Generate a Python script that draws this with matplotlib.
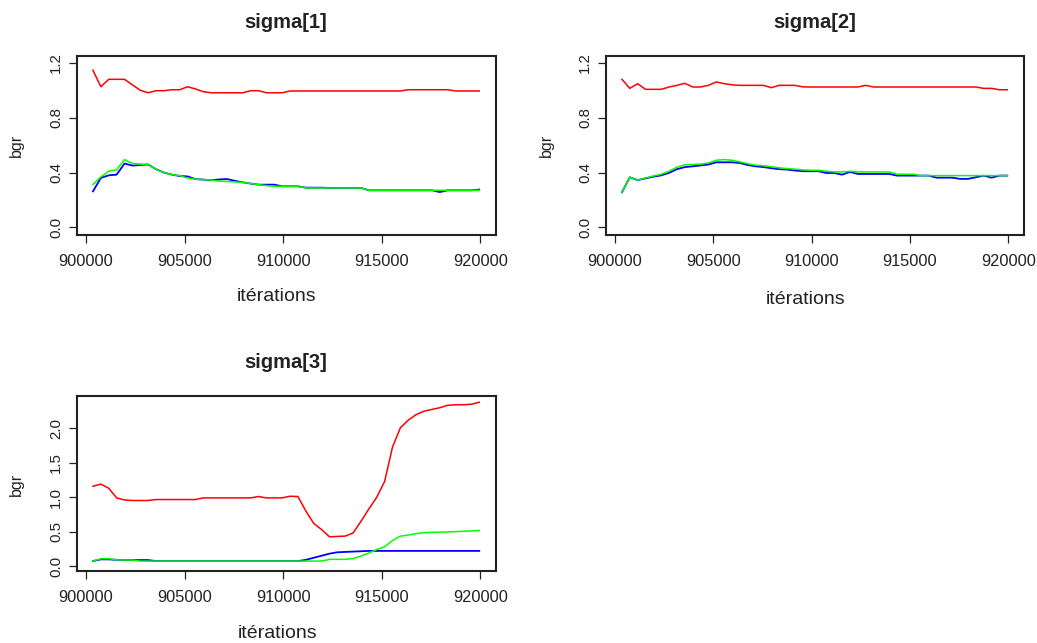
import matplotlib
matplotlib.use("Agg")
import matplotlib.pyplot as plt

plt.rcParams['font.family'] = ['Liberation Sans', 'DejaVu Sans']

# iteration grid (sample points of the BGR diagnostic)
iterations = [900350, 900750, 901150, 901550, 901950, 902350, 902750, 903150, 903550, 903950,
              904350, 904750, 905150, 905550, 905950, 906350, 906750, 907150, 907550, 907950,
              908350, 908750, 909150, 909550, 909950, 910350, 910750, 911150, 911550, 911950,
              912350, 912750, 913150, 913550, 913950, 914350, 914750, 915150, 915550, 915950,
              916350, 916750, 917150, 917550, 917950, 918350, 918750, 919150, 919550, 919950]

titles = ["sigma[1]", "sigma[2]", "sigma[3]"]

# sigma[1]
s1_red = [1.146, 1.026, 1.08, 1.08, 1.08, 1.04, 1.00, 0.982, 0.997, 0.997,
          1.004, 1.004, 1.026, 1.01, 0.99, 0.982, 0.982, 0.982, 0.982, 0.982,
          0.997, 0.997, 0.982, 0.982, 0.982, 0.995, 0.995, 0.995, 0.995, 0.995,
          0.995, 0.995, 0.995, 0.995, 0.995, 0.995, 0.995, 0.995, 0.995, 0.995,
          1.004, 1.004, 1.004, 1.004, 1.004, 1.004, 0.995, 0.995, 0.995, 0.995]
s1_blue = [0.263, 0.361, 0.38, 0.385, 0.466, 0.451, 0.455, 0.459, 0.425, 0.40,
           0.385, 0.375, 0.372, 0.352, 0.349, 0.344, 0.35, 0.353, 0.34, 0.329,
           0.32, 0.312, 0.312, 0.312, 0.30, 0.30, 0.30, 0.29, 0.29, 0.29,
           0.288, 0.288, 0.288, 0.288, 0.288, 0.271, 0.271, 0.271, 0.271, 0.271,
           0.271, 0.271, 0.271, 0.271, 0.258, 0.271, 0.271, 0.271, 0.271, 0.276]
s1_green = [0.312, 0.368, 0.41, 0.42, 0.495, 0.466, 0.462, 0.459, 0.425, 0.40,
            0.385, 0.378, 0.36, 0.352, 0.349, 0.345, 0.338, 0.335, 0.332, 0.329,
            0.32, 0.312, 0.305, 0.30, 0.30, 0.30, 0.30, 0.288, 0.288, 0.288,
            0.288, 0.288, 0.288, 0.288, 0.288, 0.271, 0.271, 0.271, 0.271, 0.271,
            0.271, 0.271, 0.271, 0.271, 0.271, 0.271, 0.271, 0.271, 0.271, 0.271]

# sigma[2]
s2_red = [1.08, 1.014, 1.048, 1.007, 1.007, 1.007, 1.024, 1.036, 1.051, 1.024,
          1.024, 1.036, 1.061, 1.048, 1.04, 1.036, 1.036, 1.036, 1.036, 1.019,
          1.036, 1.036, 1.036, 1.025, 1.024, 1.024, 1.024, 1.024, 1.024, 1.024,
          1.024, 1.036, 1.024, 1.024, 1.024, 1.024, 1.024, 1.024, 1.024, 1.024,
          1.024, 1.024, 1.024, 1.024, 1.024, 1.024, 1.014, 1.014, 1.004, 1.004]
s2_blue = [0.256, 0.366, 0.345, 0.358, 0.37, 0.38, 0.398, 0.425, 0.44, 0.446,
           0.452, 0.459, 0.475, 0.475, 0.475, 0.47, 0.455, 0.446, 0.44, 0.432,
           0.425, 0.422, 0.415, 0.41, 0.41, 0.41, 0.397, 0.397, 0.385, 0.405,
           0.39, 0.39, 0.39, 0.39, 0.39, 0.378, 0.378, 0.378, 0.378, 0.378,
           0.363, 0.363, 0.363, 0.354, 0.354, 0.366, 0.378, 0.363, 0.378, 0.378]
s2_green = [0.256, 0.366, 0.345, 0.361, 0.375, 0.388, 0.41, 0.44, 0.457, 0.459,
            0.462, 0.47, 0.49, 0.495, 0.49, 0.478, 0.465, 0.454, 0.45, 0.443,
            0.435, 0.429, 0.425, 0.42, 0.417, 0.417, 0.41, 0.405, 0.405, 0.41,
            0.405, 0.405, 0.405, 0.405, 0.405, 0.388, 0.388, 0.388, 0.378, 0.378,
            0.378, 0.378, 0.378, 0.378, 0.378, 0.378, 0.378, 0.378, 0.378, 0.378]

# sigma[3]
s3_red = [1.159, 1.19, 1.13, 0.99, 0.96, 0.952, 0.952, 0.952, 0.966, 0.966,
          0.966, 0.966, 0.966, 0.966, 0.99, 0.99, 0.99, 0.99, 0.99, 0.99,
          0.99, 1.01, 0.99, 0.99, 0.99, 1.014, 1.01, 0.80, 0.62, 0.53,
          0.425, 0.43, 0.435, 0.48, 0.65, 0.83, 1.0, 1.23, 1.73, 2.01,
          2.12, 2.2, 2.25, 2.275, 2.30, 2.335, 2.343, 2.343, 2.35, 2.38]
s3_blue = [0.072, 0.097, 0.097, 0.09, 0.087, 0.087, 0.087, 0.087, 0.072, 0.072,
           0.072, 0.072, 0.072, 0.072, 0.072, 0.072, 0.072, 0.072, 0.072, 0.072,
           0.072, 0.072, 0.072, 0.072, 0.072, 0.072, 0.072, 0.09, 0.12, 0.15,
           0.18, 0.2, 0.205, 0.21, 0.215, 0.22, 0.22, 0.22, 0.22, 0.22,
           0.22, 0.22, 0.22, 0.22, 0.22, 0.22, 0.22, 0.22, 0.22, 0.22]
s3_green = [0.072, 0.106, 0.106, 0.09, 0.087, 0.087, 0.072, 0.072, 0.072, 0.072,
            0.072, 0.072, 0.072, 0.072, 0.072, 0.072, 0.072, 0.072, 0.072, 0.072,
            0.072, 0.072, 0.072, 0.072, 0.072, 0.072, 0.072, 0.072, 0.072, 0.072,
            0.097, 0.097, 0.097, 0.11, 0.145, 0.19, 0.24, 0.28, 0.37, 0.435,
            0.45, 0.47, 0.485, 0.49, 0.493, 0.495, 0.5, 0.505, 0.51, 0.517]

xticks = [900000, 905000, 910000, 915000, 920000]
yticks_12 = [0.0, 0.4, 0.8, 1.2]
ytick_labels_12 = ["0.0", "0.4", "0.8", "1.2"]
yticks_3 = [0.0, 0.5, 1.0, 1.5, 2.0]
ytick_labels_3 = ["0.0", "0.5", "1.0", "1.5", "2.0"]

W, H = 1037, 643
fig = plt.figure(figsize=(W / 100, H / 100), dpi=100)
fig.patch.set_facecolor("white")


def px_axes(l, t, r, b):
    return [l / W, 1 - b / H, (r - l) / W, (b - t) / H]


panels = [
    dict(rect=px_axes(77, 56, 496, 235), red=s1_red, blue=s1_blue, green=s1_green,
         ylim=(-0.055, 1.25), yt=yticks_12, ytl=ytick_labels_12,
         title=(286, 22), xlab=(277, 297), ylab=(16, 145)),
    dict(rect=px_axes(606, 56, 1024, 235), red=s2_red, blue=s2_blue, green=s2_green,
         ylim=(-0.055, 1.25), yt=yticks_12, ytl=ytick_labels_12,
         title=(815, 22), xlab=(806, 300), ylab=(546, 145)),
    dict(rect=px_axes(77, 396, 496, 571), red=s3_red, blue=s3_blue, green=s3_green,
         ylim=(-0.072, 2.47), yt=yticks_3, ytl=ytick_labels_3,
         title=(286, 363), xlab=(278, 634), ylab=(16, 484)),
]

for i, p in enumerate(panels):
    ax = fig.add_axes(p["rect"])
    ax.plot(iterations, p["red"], color="#ff0000", lw=1.1)
    ax.plot(iterations, p["blue"], color="#0000ff", lw=1.3)
    ax.plot(iterations, p["green"], color="#00ff00", lw=1.1)
    ax.set_xlim(899540, 920800)
    ax.set_ylim(*p["ylim"])
    ax.set_xticks(xticks)
    ax.set_xticklabels([str(v) for v in xticks])
    ax.set_yticks(p["yt"])
    ax.set_yticklabels(p["ytl"], rotation=90, va="center")
    ax.tick_params(axis="x", direction="out", length=6, width=0.9, pad=8,
                   labelsize=11.8, colors="#222222")
    ax.tick_params(axis="y", direction="out", length=6, width=0.9, pad=4,
                   labelsize=10.8, colors="#222222")
    for s in ax.spines.values():
        s.set_linewidth(1.5)
        s.set_color("#222222")
    tx, ty = p["title"]
    fig.text(tx / W, 1 - ty / H, titles[i], ha="center", va="center",
             fontsize=14.5, fontweight="bold", color="#222222")
    lx, ly = p["xlab"]
    fig.text(lx / W, 1 - ly / H, "itérations", ha="center", va="center",
             fontsize=14, color="#222222")
    yx, yy = p["ylab"]
    fig.text(yx / W, 1 - yy / H, "bgr", ha="center", va="center", rotation=90,
             fontsize=11.5, color="#222222")

fig.savefig("out.png", dpi=100, facecolor="white")
